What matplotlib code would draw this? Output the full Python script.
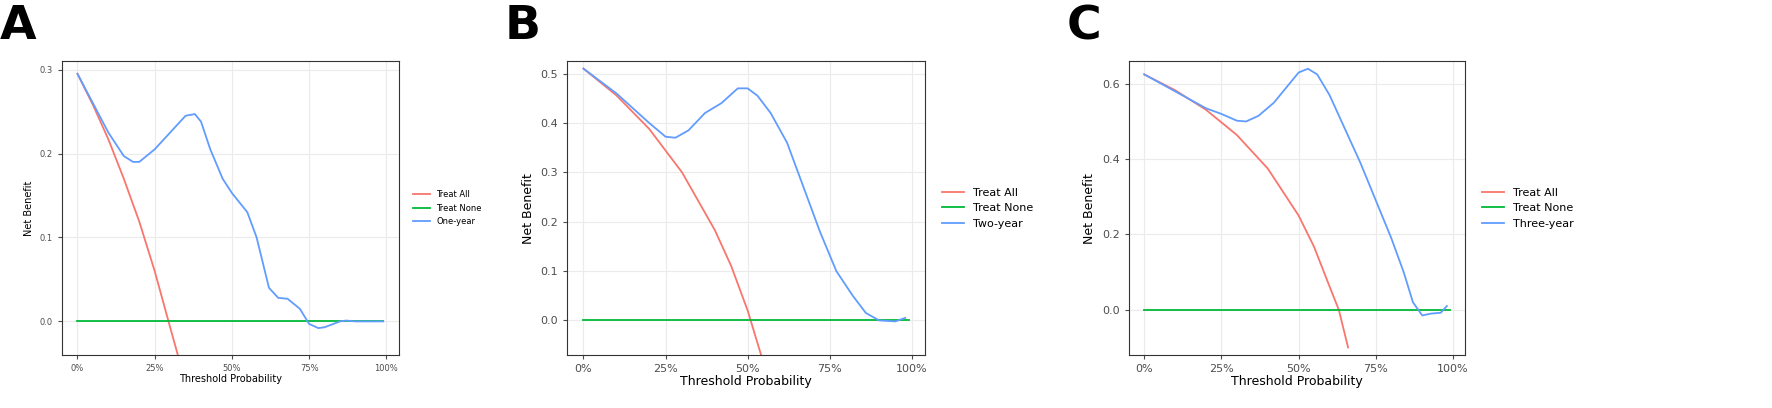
import matplotlib.pyplot as plt
from matplotlib.ticker import FuncFormatter

RED, GREEN, BLUE = "#F8766D", "#00BA38", "#619CFF"

# panel A
a_all_x = [0, 0.05, 0.1, 0.15, 0.2, 0.25, 0.3, 0.34]
a_all_y = [0.295, 0.258, 0.217, 0.17, 0.119, 0.06, -0.007, -0.06]
a_mod_x = [0, 0.05, 0.1, 0.15, 0.18, 0.2, 0.25, 0.3, 0.35, 0.38, 0.4, 0.43, 0.47, 0.5,
           0.55, 0.58, 0.62, 0.65, 0.68, 0.72, 0.75, 0.78, 0.8, 0.85, 0.87, 0.9, 0.99]
a_mod_y = [0.295, 0.26, 0.225, 0.197, 0.19, 0.19, 0.205, 0.225, 0.245, 0.247, 0.238, 0.205,
           0.17, 0.153, 0.13, 0.1, 0.04, 0.028, 0.027, 0.015, -0.003, -0.008, -0.007, 0.0,
           0.001, 0.0, 0.0]

# panel B
b_all_x = [0, 0.1, 0.2, 0.3, 0.4, 0.45, 0.5, 0.55]
b_all_y = [0.51, 0.456, 0.388, 0.30, 0.183, 0.11, 0.02, -0.09]
b_mod_x = [0, 0.05, 0.1, 0.15, 0.2, 0.25, 0.28, 0.32, 0.37, 0.42, 0.47, 0.5, 0.53, 0.57,
           0.62, 0.67, 0.72, 0.77, 0.82, 0.86, 0.9, 0.95, 0.98]
b_mod_y = [0.51, 0.485, 0.46, 0.43, 0.4, 0.372, 0.37, 0.385, 0.42, 0.44, 0.47, 0.47, 0.455,
           0.42, 0.36, 0.27, 0.18, 0.1, 0.05, 0.015, 0.0, -0.002, 0.005]

# panel C
c_all_x = [0, 0.1, 0.2, 0.3, 0.4, 0.5, 0.55, 0.6, 0.63, 0.66]
c_all_y = [0.625, 0.583, 0.531, 0.464, 0.375, 0.25, 0.167, 0.062, 0.0, -0.1]
c_mod_x = [0, 0.1, 0.2, 0.25, 0.3, 0.33, 0.37, 0.42, 0.47, 0.5, 0.53, 0.56, 0.6, 0.65,
           0.7, 0.75, 0.8, 0.84, 0.87, 0.9, 0.93, 0.96, 0.98]
c_mod_y = [0.625, 0.58, 0.535, 0.52, 0.502, 0.5, 0.515, 0.55, 0.6, 0.63, 0.64, 0.625, 0.57,
           0.48, 0.39, 0.29, 0.19, 0.1, 0.02, -0.015, -0.01, -0.008, 0.01]

panels = [
    ("A", [0.035, 0.13, 0.19, 0.72], a_all_x, a_all_y, a_mod_x, a_mod_y, "One-year",
     (-0.04, 0.31), [0, 0.1, 0.2, 0.3], 7),
    ("B", [0.32, 0.13, 0.202, 0.72], b_all_x, b_all_y, b_mod_x, b_mod_y, "Two-year",
     (-0.07, 0.525), [0, 0.1, 0.2, 0.3, 0.4, 0.5], 9),
    ("C", [0.637, 0.13, 0.19, 0.72], c_all_x, c_all_y, c_mod_x, c_mod_y, "Three-year",
     (-0.12, 0.66), [0, 0.2, 0.4, 0.6], 9),
]

fig = plt.figure(figsize=(17.72, 4.08), dpi=100)
for letter, pos, ax_, ay_, mx, my, name, ylim, yticks, fs in panels:
    ax = fig.add_axes(pos)
    ax.plot(ax_, ay_, color=RED, lw=1.3, label="Treat All")
    ax.plot([0, 0.99], [0, 0], color=GREEN, lw=1.3, label="Treat None")
    ax.plot(mx, my, color=BLUE, lw=1.3, label=name)
    ax.set_xlim(-0.05, 1.04)
    ax.set_ylim(*ylim)
    ax.set_xticks([0, 0.25, 0.5, 0.75, 1.0])
    ax.xaxis.set_major_formatter(FuncFormatter(lambda v, p: f"{v*100:.0f}%"))
    ax.set_yticks(yticks)
    ax.grid(color="#ebebeb", lw=0.8)
    ax.set_axisbelow(True)
    for s in ax.spines.values():
        s.set_color("#333333")
    ax.tick_params(labelsize=fs - 1, colors="#4d4d4d", length=3)
    ax.set_xlabel("Threshold Probability", fontsize=fs, labelpad=1)
    ax.set_ylabel("Net Benefit", fontsize=fs)
    ax.legend(loc="center left", bbox_to_anchor=(1.02, 0.5), frameon=False,
              fontsize=fs - 1, handlelength=2)
    fig.text(pos[0] - 0.035, 0.99, letter, fontsize=34, fontweight="bold",
             va="top", ha="left")

fig.savefig("out.png")
